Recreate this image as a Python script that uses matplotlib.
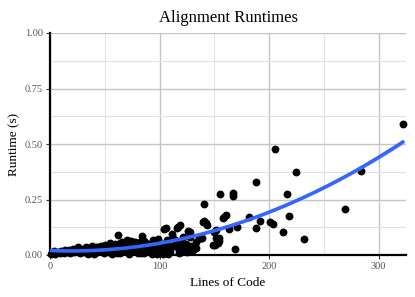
import matplotlib
matplotlib.use("Agg")
import matplotlib.pyplot as plt
import numpy as np

# lines of code vs. runtime (s)
lines_of_code = [
    1, 3, 5, 7, 9, 11, 13, 14, 16, 18, 20, 22, 24, 26, 27, 29, 31, 32, 34, 36,
    38, 39, 41, 43, 44, 46, 48, 49, 50, 52, 54, 55, 57, 58, 59, 61, 62, 63, 65, 66,
    67, 69, 70, 71, 73, 74, 75, 77, 78, 79, 81, 83, 84, 85, 87, 88, 89, 91, 92, 93,
    94, 96, 97, 99, 100, 101, 103, 104, 105, 106, 107, 108, 110, 111, 112, 113, 114, 115, 116, 117,
    117, 119, 119, 120, 121, 122, 122, 124, 126, 128, 128, 131, 133, 133, 136, 137, 138, 139, 140, 141,
    141, 142, 143, 149, 150, 151, 152, 152, 153, 154, 154, 155, 158, 159, 161, 163, 167, 167, 169, 171,
    182, 188, 188, 192, 201, 204, 205, 213, 216, 218, 225, 232, 269, 284, 322,
    # packed low runs
    4, 10, 17, 21, 28, 33, 37, 42, 45, 47, 51, 53, 56, 60, 64, 68, 72, 76, 80, 82,
    86, 90, 95, 98, 102, 109, 35, 40, 57, 64, 72, 80, 86, 92, 98, 103, 109, 118, 125, 129,
]
runtime_s = [
    0.004, 0.010, 0.006, 0.012, 0.008, 0.014, 0.009, 0.024, 0.013, 0.007, 0.020, 0.012, 0.016, 0.034, 0.008, 0.020, 0.014, 0.028, 0.022, 0.010,
    0.042, 0.018, 0.026, 0.012, 0.035, 0.020, 0.030, 0.010, 0.046, 0.024, 0.014, 0.056, 0.034, 0.020, 0.048, 0.010, 0.088, 0.030, 0.042, 0.060,
    0.018, 0.026, 0.068, 0.040, 0.012, 0.062, 0.030, 0.048, 0.058, 0.020, 0.036, 0.008, 0.086, 0.028, 0.044, 0.056, 0.016, 0.032, 0.050, 0.006,
    0.068, 0.024, 0.040, 0.074, 0.037, 0.012, 0.050, 0.117, 0.028, 0.120, 0.066, 0.006, 0.015, 0.095, 0.077, 0.040, 0.068, 0.060, 0.120, 0.030,
    0.128, 0.135, 0.053, 0.015, 0.080, 0.032, 0.030, 0.050, 0.108, 0.082, 0.105, 0.022, 0.060, 0.030, 0.075, 0.075, 0.077, 0.075, 0.150, 0.230,
    0.152, 0.145, 0.135, 0.045, 0.105, 0.045, 0.075, 0.113, 0.054, 0.064, 0.077, 0.276, 0.167, 0.173, 0.182, 0.116, 0.278, 0.266, 0.027, 0.125,
    0.173, 0.329, 0.120, 0.153, 0.147, 0.141, 0.476, 0.104, 0.275, 0.177, 0.375, 0.071, 0.207, 0.378, 0.589,
    0.016, 0.018, 0.022, 0.028, 0.026, 0.036, 0.030, 0.038, 0.026, 0.040, 0.034, 0.044, 0.046, 0.036, 0.052, 0.048, 0.054, 0.044, 0.050, 0.060,
    0.064, 0.042, 0.052, 0.058, 0.030, 0.040, 0.004, 0.006, 0.006, 0.008, 0.006, 0.010, 0.008, 0.016, 0.006, 0.004, 0.024, 0.010, 0.012, 0.040,
]

x = np.array(lines_of_code, dtype=float)
y = np.array(runtime_s)

# quadratic smoother with narrow band (like geom_smooth(method="lm", y ~ poly(x, 2)))
X = np.column_stack([np.ones_like(x), x, x ** 2])
beta = np.linalg.lstsq(X, y, rcond=None)[0]
sigma2 = np.sum((y - X @ beta) ** 2) / (len(x) - 3)
cov = sigma2 * np.linalg.inv(X.T @ X)
xs = np.linspace(x.min(), x.max(), 200)
Xs = np.column_stack([np.ones_like(xs), xs, xs ** 2])
fit = Xs @ beta
se = np.sqrt(np.einsum("ij,jk,ik->i", Xs, cov, Xs))

plt.rcParams["font.family"] = ["Liberation Serif", "DejaVu Serif"]

fig = plt.figure(figsize=(4.15, 2.97), dpi=100)
ax = fig.add_axes([50 / 415, 42 / 297, 356 / 415, 222 / 297])

ax.set_xlim(0, 325)
ax.set_ylim(0, 1)
ax.set_xticks([0, 100, 200, 300])
ax.set_xticks([50, 150, 250], minor=True)
ax.set_yticks([0, 0.25, 0.5, 0.75, 1.0])
ax.set_yticks([0.125, 0.375, 0.625, 0.875], minor=True)
ax.set_yticklabels(["0.00", "0.25", "0.50", "0.75", "1.00"])
ax.grid(which="major", color="#c4c4c4", lw=1.0)
ax.grid(which="minor", color="#e2e2e2", lw=0.8)
ax.set_axisbelow(True)

for s in ["top", "right"]:
    ax.spines[s].set_visible(False)
for s in ["left", "bottom"]:
    ax.spines[s].set_color("black")
    ax.spines[s].set_linewidth(1.6)

ax.tick_params(which="major", length=3, width=0.8, color="#333333",
               labelsize=7.5, labelcolor="#555555", pad=2)
ax.tick_params(which="minor", length=0)

ax.scatter(x, y, s=32, color="black", lw=0, zorder=3, clip_on=False)
ax.fill_between(xs, fit - 0.4 * se, fit + 0.4 * se, color="#aaaaaa", alpha=0.45, lw=0, zorder=4)
ax.plot(xs, fit, color="#3366FF", lw=2.6, zorder=5)

ax.set_title("Alignment Runtimes", fontsize=12, pad=8)
ax.set_xlabel("Lines of Code", fontsize=9.5, labelpad=4)
ax.set_ylabel("Runtime (s)", fontsize=9.5, labelpad=3)

fig.savefig("out.png", dpi=100)
